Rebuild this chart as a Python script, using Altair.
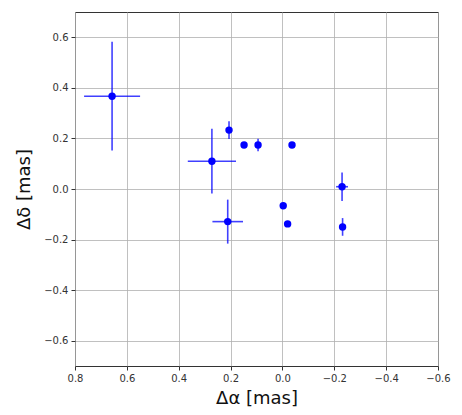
import altair as alt
import pandas as pd

dra = [0.657, 0.272, 0.206, 0.148, 0.094, -0.037, 0.211, -0.003, -0.020, -0.230, -0.232]
ddec = [0.367, 0.110, 0.233, 0.174, 0.174, 0.174, -0.129, -0.066, -0.138, 0.009, -0.150]
dra_err = [0.108, 0.093, 0.0, 0.0, 0.0, 0.0, 0.059, 0.0, 0.0, 0.023, 0.0]
ddec_err = [0.215, 0.128, 0.035, 0.0, 0.025, 0.0, 0.087, 0.0, 0.0, 0.056, 0.035]

x_ticks = [0.8, 0.6, 0.4, 0.2, 0.0, -0.2, -0.4, -0.6]
y_ticks = [-0.6, -0.4, -0.2, 0.0, 0.2, 0.4, 0.6]

df = pd.DataFrame({"x": dra, "y": ddec, "xe": dra_err, "ye": ddec_err})
df["xlo"] = df["x"] - df["xe"]
df["xhi"] = df["x"] + df["xe"]
df["ylo"] = df["y"] - df["ye"]
df["yhi"] = df["y"] + df["ye"]

font = "DejaVu Sans"
xscale = alt.Scale(domain=[-0.6, 0.8], reverse=True, nice=False, zero=False)
yscale = alt.Scale(domain=[-0.7, 0.7], nice=False, zero=False)

common = dict(format=".1f", grid=True, gridColor="#b0b0b0", gridWidth=0.8,
              tickSize=4, tickColor="#333", labelFont=font, labelFontSize=10,
              labelColor="#333", labelPadding=3, labelFlush=False, labelOverlap=False,
              titleFont=font, titleFontSize=18, titleFontWeight="normal",
              titleColor="#111", domain=False,
              labelExpr="replace(datum.label, '-', '\u2212')")
xaxis = alt.Axis(values=x_ticks, title="Δα [mas]", titlePadding=6, **common)
yaxis = alt.Axis(values=y_ticks, title="Δδ [mas]", titlePadding=10, **common)

base = alt.Chart(df)

xerr = base.transform_filter("datum.xe > 0").mark_rule(color="blue", strokeWidth=1.6, opacity=0.75).encode(
    x=alt.X("xlo:Q", scale=xscale, axis=xaxis),
    x2="xhi:Q",
    y=alt.Y("y:Q", scale=yscale, axis=yaxis),
)
yerr = base.transform_filter("datum.ye > 0").mark_rule(color="blue", strokeWidth=1.6, opacity=0.75).encode(
    x=alt.X("x:Q", scale=xscale),
    y=alt.Y("ylo:Q", scale=yscale),
    y2="yhi:Q",
)
pts = base.mark_circle(color="blue", size=55, opacity=1).encode(
    x=alt.X("x:Q", scale=xscale),
    y=alt.Y("y:Q", scale=yscale),
)

chart = alt.layer(xerr, yerr, pts).properties(
    width=363, height=354,
    autosize=alt.AutoSizeParams(type="none"),
    padding={"left": 75, "top": 12, "right": 24, "bottom": 49},
).configure_view(stroke="#333", strokeWidth=1)

chart.save("out.html", embed_options={"renderer": "svg", "actions": False})
